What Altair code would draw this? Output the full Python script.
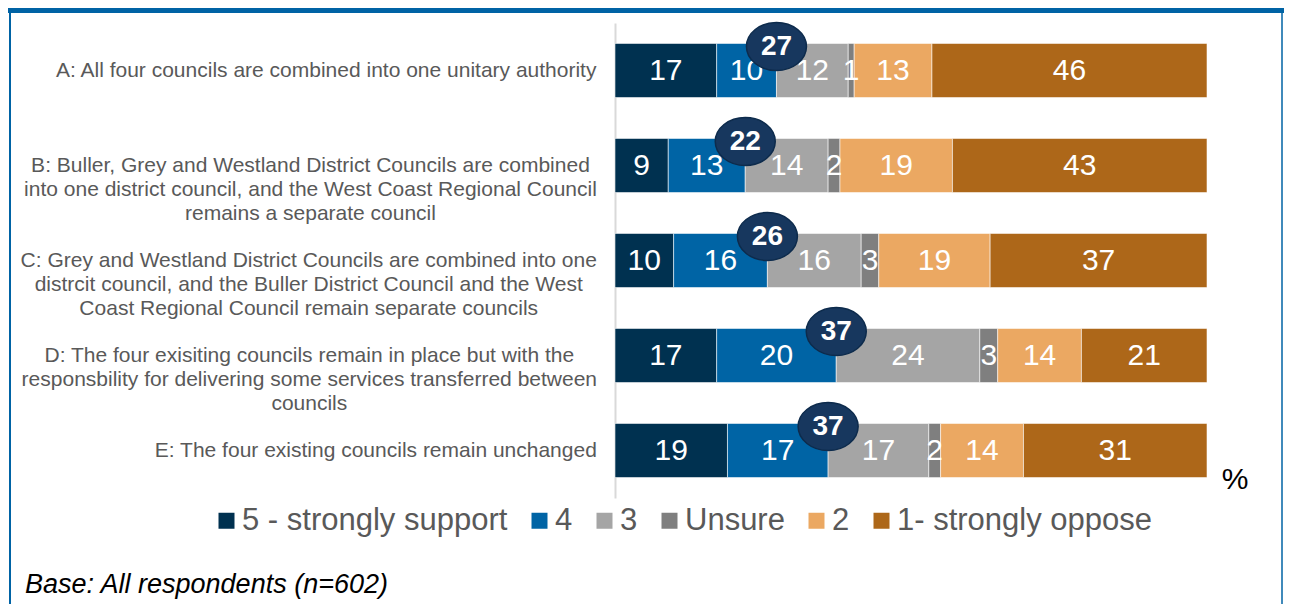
import altair as alt
import pandas as pd

# ---- data ----
cat_keys = ["A", "B", "C", "D", "E"]
cat_labels = [
    "A: All four councils are combined into one unitary authority",
    "B: Buller, Grey and  Westland District Councils are combined|into one district council, and the West Coast Regional Council|remains a separate council",
    "C: Grey and Westland District Councils are combined into one|distrcit council, and the Buller District Council and the West|Coast Regional Council remain separate councils",
    "D: The four exisiting councils remain in place but with the|responsbility for delivering some services transferred between|councils",
    "E: The four existing councils remain unchanged",
]
series = ["5 - strongly support", "4", "3", "Unsure", "2", "1- strongly oppose"]
colors = ["#003150", "#0064A5", "#A5A5A5", "#7F7F7F", "#EBA862", "#AD6719"]

v5 = [17, 9, 10, 17, 19]
v4 = [10, 13, 16, 20, 17]
v3 = [12, 14, 16, 24, 17]
v_unsure = [1, 2, 3, 3, 2]
v2 = [13, 19, 19, 14, 14]
v1 = [46, 43, 37, 21, 31]
net_support = [27, 22, 26, 37, 37]

# ---- build tables ----
rows = []
circ = []
for i, c in enumerate(cat_keys):
    vals = [v5[i], v4[i], v3[i], v_unsure[i], v2[i], v1[i]]
    total = float(sum(vals))
    cum = 0
    for j, s in enumerate(series):
        start = cum / total
        cum += vals[j]
        end = cum / total
        rows.append(dict(cat=c, series=s, order=j, value=vals[j],
                         start=start, end=end, mid=(start + end) / 2))
        if s == "4":
            circ.append(dict(cat=c, net=net_support[i], pos=end))
df = pd.DataFrame(rows)
cdf = pd.DataFrame(circ)

# approximate text width (Arial / Liberation Sans metrics, per 1000 em)
_W = {" ": 278, ",": 278, ".": 278, ":": 278, "-": 333,
      "A": 667, "B": 667, "C": 722, "D": 722, "E": 667, "F": 611, "G": 778,
      "H": 722, "I": 278, "K": 667, "L": 556, "M": 833, "N": 722, "O": 778,
      "P": 667, "R": 722, "S": 667, "T": 611, "U": 722, "V": 667, "W": 944,
      "c": 500, "f": 278, "i": 222, "j": 222, "k": 500, "l": 222, "m": 833,
      "r": 333, "s": 500, "t": 278, "v": 500, "w": 722, "x": 500, "y": 500,
      "z": 500}


def text_width(s, fs):
    return sum(_W.get(ch, 556) for ch in s) * fs / 1000.0


LABEL_FS = 21
lab_rows = []
for c, t in zip(cat_keys, cat_labels):
    w = max(text_width(s, LABEL_FS) for s in t.split("|"))
    lab_rows.append(dict(cat=c, label=t, lx=-18 - w / 2))
ldf = pd.DataFrame(lab_rows)

W, H = 592, 475
PAD = {"left": 607, "top": 15, "right": 77, "bottom": 106}
FONT = "Liberation Sans"

yscale = alt.Scale(domain=cat_keys, paddingInner=0.43, paddingOuter=0.215)
y_axis = alt.Y("cat:N", sort=cat_keys, scale=yscale,
               axis=alt.Axis(labels=False, ticks=False, title=None, grid=False,
                             domainColor="#D9D9D9", domainWidth=2))
y_plain = alt.Y("cat:N", sort=cat_keys, scale=yscale)
xscale = alt.Scale(domain=[0, 1], nice=False, zero=True)

bars = alt.Chart(df).mark_bar(stroke="white", strokeWidth=0.8, strokeOpacity=0.7).encode(
    x=alt.X("start:Q", scale=xscale, axis=None),
    x2="end:Q",
    y=y_axis,
    color=alt.Color("series:N", scale=alt.Scale(domain=series, range=colors),
                    legend=alt.Legend(orient="none", legendX=-408, legendY=482,
                                      direction="horizontal", columns=6, title=None,
                                      symbolType="square", symbolSize=256,
                                      symbolStrokeWidth=0, symbolOffset=4,
                                      labelFontSize=31,
                                      labelColor="#595959", labelFont=FONT,
                                      columnPadding=12, labelOffset=0, labelLimit=0)),
    order="order:Q",
)

seg_text = alt.Chart(df).mark_text(color="white", fontSize=30, font=FONT,
                                   baseline="middle").encode(
    x=alt.X("mid:Q", scale=xscale, axis=None),
    y=y_plain,
    text="value:Q",
)

ellipse = "M-1,0A1,0.8,0,1,1,1,0A1,0.8,0,1,1,-1,0Z"
circles = alt.Chart(cdf).mark_point(shape=ellipse, size=3600, filled=True,
                                    color="#17375E", stroke="#0D2B4C",
                                    strokeWidth=1.5, opacity=1, yOffset=-24).encode(
    x=alt.X("pos:Q", scale=xscale, axis=None),
    y=y_plain,
)
circ_text = alt.Chart(cdf).mark_text(color="white", fontSize=28, fontWeight="bold",
                                     font=FONT, baseline="middle", yOffset=-24).encode(
    x=alt.X("pos:Q", scale=xscale, axis=None),
    y=y_plain,
    text="net:Q",
)

labels = alt.Chart(ldf).mark_text(align="center", baseline="middle", lineBreak="|",
                                  lineHeight=24, fontSize=LABEL_FS, font=FONT,
                                  color="#595959").encode(
    x=alt.X("lx:Q", scale=None, axis=None),
    y=y_plain,
    text="label:N",
)

one = pd.DataFrame({"a": [0]})
pct = alt.Chart(one).mark_text(text="%", fontSize=30, font=FONT, color="#000000",
                               align="center", baseline="middle").encode(
    x=alt.value(620), y=alt.value(457))
base = alt.Chart(one).mark_text(text="Base: All respondents (n=602)", fontSize=27,
                                fontStyle="italic", font=FONT, color="#000000",
                                align="left", baseline="middle").encode(
    x=alt.value(-590), y=alt.value(562))
top_band = alt.Chart(one).mark_rule(color="#0063A5", strokeWidth=5).encode(
    x=alt.value(-607), x2=alt.value(669), y=alt.value(-12.5))
left_line = alt.Chart(one).mark_rule(color="#0063A5", strokeWidth=2).encode(
    x=alt.value(-605), y=alt.value(-15), y2=alt.value(581))
right_line = alt.Chart(one).mark_rule(color="#0063A5", strokeWidth=1.5).encode(
    x=alt.value(667), y=alt.value(-15), y2=alt.value(581))

chart = alt.layer(
    top_band, left_line, right_line, bars, seg_text, circles, circ_text, labels, pct, base
).resolve_scale(x="independent").properties(
    width=W, height=H, padding=PAD, autosize=alt.AutoSizeParams(type="none"),
    background="white",
).configure_view(stroke=None).configure_text(font=FONT)

chart.save("out.html", embed_options={"renderer": "svg", "actions": False})
